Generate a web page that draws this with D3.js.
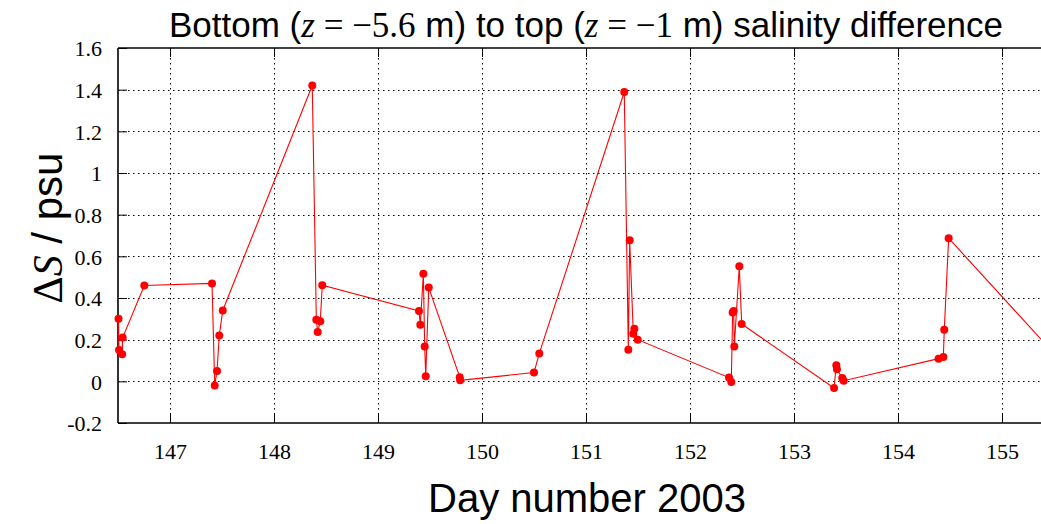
<!DOCTYPE html>
<html>
<head>
<meta charset="utf-8">
<script src="https://cdn.jsdelivr.net/npm/d3@7"></script>
<style>
  body { margin: 0; background: #fff; }
  svg { display: block; }
</style>
</head>
<body>
<div id="chart"></div>
<script>
// day numbers and salinity differences (psu)
const days = [
  146.505, 146.51, 146.54, 146.545, 146.753,
  147.404, 147.43, 147.452, 147.474, 147.507,
  148.368, 148.407, 148.42, 148.445, 148.464,
  149.394, 149.407, 149.436, 149.449, 149.459, 149.488, 149.786, 149.79,
  150.50, 150.551,
  151.368, 151.407, 151.42, 151.455, 151.465, 151.497,
  152.375, 152.397, 152.41, 152.42, 152.426, 152.474, 152.497,
  153.385, 153.407, 153.413, 153.464, 153.478,
  154.39, 154.436, 154.445, 154.487,
  155.6
];
const deltaS = [
  0.30, 0.15, 0.13, 0.21, 0.46,
  0.47, -0.02, 0.05, 0.22, 0.34,
  1.42, 0.296, 0.237, 0.288, 0.461,
  0.338, 0.272, 0.517, 0.167, 0.025, 0.45, 0.02, 0.005,
  0.042, 0.134,
  1.389, 0.152, 0.677, 0.229, 0.253, 0.20,
  0.018, -0.003, 0.331, 0.338, 0.167, 0.552, 0.275,
  -0.032, 0.077, 0.058, 0.016, 0.003,
  0.109, 0.117, 0.248, 0.687,
  0.079
];
const xTicks = [147, 148, 149, 150, 151, 152, 153, 154, 155];
const yTicks = [-0.2, 0, 0.2, 0.4, 0.6, 0.8, 1, 1.2, 1.4, 1.6];

const width = 1041, height = 524;
const mLeft = 118, mRight = 1054, mTop = 48, mBottom = 423;

const svg = d3.select('#chart').append('svg')
  .attr('width', width)
  .attr('height', height);

const x = d3.scaleLinear().domain([146.5, 155.5]).range([mLeft, mRight]);
const y = d3.scaleLinear().domain([-0.2, 1.6]).range([mBottom, mTop]);

svg.append('clipPath').attr('id', 'clip')
  .append('rect')
  .attr('x', mLeft).attr('y', mTop)
  .attr('width', mRight - mLeft).attr('height', mBottom - mTop);

// dotted grid
const grid = svg.append('g')
  .attr('stroke', '#000')
  .attr('stroke-width', 1)
  .attr('stroke-dasharray', '1.5,3.5');
grid.selectAll('line.v')
  .data(xTicks)
  .enter().append('line')
  .attr('x1', d => Math.round(x(d)) + 0.5).attr('x2', d => Math.round(x(d)) + 0.5)
  .attr('y1', mTop).attr('y2', mBottom);
grid.selectAll('line.h')
  .data(yTicks.filter(d => d > -0.2 && d < 1.6))
  .enter().append('line')
  .attr('x1', mLeft).attr('x2', mRight)
  .attr('y1', d => Math.round(y(d)) + 0.5).attr('y2', d => Math.round(y(d)) + 0.5);

// axes (gnuplot style, ticks pointing inward)
const xAxis = d3.axisBottom(x).tickValues(xTicks).tickSize(-9).tickPadding(20)
  .tickFormat(d3.format('d'));
const yAxis = d3.axisLeft(y).tickValues(yTicks).tickSize(-9).tickPadding(16)
  .tickFormat(d => d === 0 ? '0' : String(+d.toFixed(1)));
const xTop = d3.axisTop(x).tickValues(xTicks).tickSize(-9).tickFormat('');

const gx = svg.append('g').attr('transform', `translate(0,${mBottom})`).call(xAxis);
const gy = svg.append('g').attr('transform', `translate(${mLeft},0)`).call(yAxis);
const gt = svg.append('g').attr('transform', `translate(0,${mTop})`).call(xTop);

[gx, gy, gt].forEach(g => {
  g.select('.domain').attr('stroke', '#000').attr('stroke-width', 1.6);
  g.selectAll('.tick line').attr('stroke', '#000').attr('stroke-width', 1);
  g.selectAll('.tick text')
    .attr('fill', '#000')
    .style('font-family', '"Liberation Serif", "DejaVu Serif", serif')
    .style('font-size', '22px');
});
gx.select('.domain').attr('d', `M${mLeft},0H${mRight}`);
gt.select('.domain').attr('d', `M${mLeft},0H${mRight}`);
gy.select('.domain').attr('d', `M0,${mBottom}V${mTop}`);
gy.selectAll('.tick text').attr('dy', '0.36em');

// data line and points
const pts = days.map((d, i) => ({ day: d, v: deltaS[i] }));

svg.append('path')
  .datum(pts)
  .attr('clip-path', 'url(#clip)')
  .attr('fill', 'none')
  .attr('stroke', '#ff0000')
  .attr('stroke-width', 1.1)
  .attr('d', d3.line().x(d => x(d.day)).y(d => y(d.v)));

svg.selectAll('circle')
  .data(pts)
  .enter().append('circle')
  .attr('cx', d => x(d.day))
  .attr('cy', d => y(d.v))
  .attr('r', 4)
  .attr('fill', '#ff0000');

// title
const sans = '"Liberation Sans", Arial, sans-serif';
const serif = '"Liberation Serif", "DejaVu Serif", serif';
const title = svg.append('text')
  .attr('x', 586).attr('y', 37)
  .attr('text-anchor', 'middle')
  .style('font-family', sans)
  .style('font-size', '35px');
title.append('tspan').text('Bottom (');
title.append('tspan').style('font-family', serif).style('font-style', 'italic').text('z');
title.append('tspan').style('font-family', serif).text(' = −5.6');
title.append('tspan').text(' m) to top (');
title.append('tspan').style('font-family', serif).style('font-style', 'italic').text('z');
title.append('tspan').style('font-family', serif).text(' = −1');
title.append('tspan').text(' m) salinity difference');

// axis labels
svg.append('text')
  .attr('x', 587).attr('y', 512)
  .attr('text-anchor', 'middle')
  .style('font-family', sans)
  .style('font-size', '40px')
  .text('Day number 2003');

const yl = svg.append('text')
  .attr('transform', 'translate(62,228) rotate(-90)')
  .attr('text-anchor', 'middle')
  .style('font-family', sans)
  .style('font-size', '42px');
yl.append('tspan').style('font-family', serif).text('Δ');
yl.append('tspan').style('font-family', serif).style('font-style', 'italic').text('S');
yl.append('tspan').text(' / psu');
</script>
</body>
</html>
